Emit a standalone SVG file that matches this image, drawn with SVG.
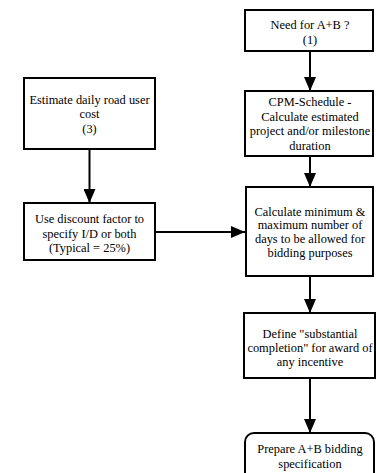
<svg xmlns="http://www.w3.org/2000/svg" width="376" height="473" viewBox="0 0 376 473">
<style>
.box{fill:#fff;stroke:#000;stroke-width:2}
.t{font-family:"Liberation Serif","Times New Roman",serif;font-size:12.4px;fill:#000;text-anchor:middle}
.c{stroke:#000;stroke-width:2;fill:none}
</style>
<defs>
<marker id="ah" markerWidth="14" markerHeight="12" viewBox="0 0 14 12" refX="14" refY="6" orient="auto" markerUnits="userSpaceOnUse">
<path d="M0,0 L14,6 L0,12 Z" fill="#000"/>
</marker>
</defs>
<rect width="376" height="473" fill="#fff"/>
<g id="connectors">
<line class="c" x1="310" y1="51" x2="310" y2="91" marker-end="url(#ah)"/>
<line class="c" x1="310" y1="156" x2="310" y2="187" marker-end="url(#ah)"/>
<line class="c" x1="310" y1="276" x2="310" y2="313" marker-end="url(#ah)"/>
<line class="c" x1="310" y1="378" x2="310" y2="433" marker-end="url(#ah)"/>
<line class="c" x1="89.5" y1="149" x2="89.5" y2="203" marker-end="url(#ah)"/>
<line class="c" x1="155" y1="232" x2="245" y2="232" marker-end="url(#ah)"/>
</g>
<g id="n1">
<rect class="box" x="245" y="10" width="128" height="41"/>
<text class="t" x="310" y="29">Need for A+B ?</text>
<text class="t" x="310" y="44">(1)</text>
</g>
<g id="n2">
<rect class="box" x="245" y="91" width="128" height="65"/>
<text class="t" x="310" y="106">CPM-Schedule -</text>
<text class="t" x="310" y="120.5">Calculate estimated</text>
<text class="t" x="310" y="135">project and/or milestone</text>
<text class="t" x="310" y="149.5">duration</text>
</g>
<g id="n3">
<rect class="box" x="24" y="78" width="131" height="71"/>
<text class="t" x="89.5" y="104">Estimate daily road user</text>
<text class="t" x="89.5" y="118">cost</text>
<text class="t" x="89.5" y="132.5">(3)</text>
</g>
<g id="n4">
<rect class="box" x="24" y="203" width="131" height="57"/>
<text class="t" x="89.5" y="223">Use discount factor to</text>
<text class="t" x="89.5" y="237.5">specify I/D or both</text>
<text class="t" x="89.5" y="252">(Typical = 25%)</text>
</g>
<g id="n5">
<rect class="box" x="246" y="187" width="127" height="89"/>
<text class="t" x="310" y="215.5">Calculate minimum &amp;</text>
<text class="t" x="310" y="229">maximum number of</text>
<text class="t" x="310" y="243">days to be allowed for</text>
<text class="t" x="310" y="257">bidding purposes</text>
</g>
<g id="n6">
<rect class="box" x="244" y="313" width="131" height="65"/>
<text class="t" x="310" y="337.5">Define "substantial</text>
<text class="t" x="310" y="352">completion" for award of</text>
<text class="t" x="310" y="366">any incentive</text>
</g>
<g id="n7">
<rect class="box" x="245" y="433" width="129" height="50" rx="9" ry="9"/>
<text class="t" x="310" y="453">Prepare A+B bidding</text>
<text class="t" x="310" y="468">specification</text>
</g>
</svg>
